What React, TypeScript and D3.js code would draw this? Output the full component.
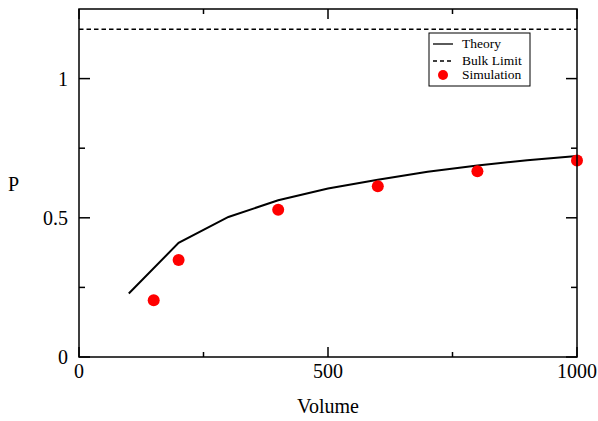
import React from "react";
import * as d3 from "d3";

const theoryVolume = [100, 200, 300, 400, 500, 600, 700, 800, 900, 1000];
const theoryP = [0.228, 0.41, 0.503, 0.563, 0.605, 0.637, 0.665, 0.688, 0.707, 0.722];
const simVolume = [150, 200, 400, 600, 800, 1000];
const simP = [0.204, 0.348, 0.529, 0.613, 0.667, 0.706];
const bulkLimit = 1.177;
const xMajorTicks = [0, 500, 1000];
const xMinorTicks = [250, 750];
const yMajorTicks = [0, 0.5, 1];
const yMinorTicks = [0.25, 0.75];
const legendLabels = ["Theory", "Bulk Limit", "Simulation"];

export default function App() {
  const W = 598, H = 421;
  const L = 79, R = 577, T = 9, B = 357;
  const x = d3.scaleLinear().domain([0, 1000]).range([L, R]);
  const y = d3.scaleLinear().domain([0, 1.25]).range([B, T]);
  const line = d3.line<number>().x((_, i) => x(theoryVolume[i])).y((d) => y(d));
  const font = "'Liberation Serif', 'Times New Roman', serif";
  const legY = [44, 61, 75];
  return (
    <svg width={W} height={H} style={{ position: "absolute", left: 0, top: 0 }}>
      <rect x={0} y={0} width={W} height={H} fill="#fff" />
      {/* dashed bulk limit */}
      <line x1={L} x2={R} y1={y(bulkLimit)} y2={y(bulkLimit)} stroke="#000" strokeWidth={1.5} strokeDasharray="4.5,3" />
      {/* theory line */}
      <path d={line(theoryP) || ""} fill="none" stroke="#000" strokeWidth={2} />
      {/* simulation dots */}
      {simP.map((p, i) => (
        <circle key={i} cx={x(simVolume[i])} cy={y(p)} r={6} fill="#ff0000" />
      ))}
      {/* frame */}
      <rect x={L} y={T} width={R - L} height={B - T} fill="none" stroke="#000" strokeWidth={1.5} />
      {/* x ticks */}
      {xMajorTicks.map((t) => (
        <g key={"xM" + t}>
          <line x1={x(t)} x2={x(t)} y1={B} y2={B - 10} stroke="#000" strokeWidth={1.5} />
          <line x1={x(t)} x2={x(t)} y1={T} y2={T + 10} stroke="#000" strokeWidth={1.5} />
          <text x={x(t)} y={378} fontFamily={font} fontSize={20} textAnchor="middle">{t}</text>
        </g>
      ))}
      {xMinorTicks.map((t) => (
        <g key={"xm" + t}>
          <line x1={x(t)} x2={x(t)} y1={B} y2={B - 5} stroke="#000" strokeWidth={1.5} />
          <line x1={x(t)} x2={x(t)} y1={T} y2={T + 5} stroke="#000" strokeWidth={1.5} />
        </g>
      ))}
      {/* y ticks */}
      {yMajorTicks.map((t) => (
        <g key={"yM" + t}>
          <line x1={L} x2={L + 11} y1={y(t)} y2={y(t)} stroke="#000" strokeWidth={1.5} />
          <line x1={R} x2={R - 11} y1={y(t)} y2={y(t)} stroke="#000" strokeWidth={1.5} />
          <text x={68} y={y(t) + 7} fontFamily={font} fontSize={20} textAnchor="end">{t}</text>
        </g>
      ))}
      {yMinorTicks.map((t) => (
        <g key={"ym" + t}>
          <line x1={L} x2={L + 6} y1={y(t)} y2={y(t)} stroke="#000" strokeWidth={1.5} />
          <line x1={R} x2={R - 6} y1={y(t)} y2={y(t)} stroke="#000" strokeWidth={1.5} />
        </g>
      ))}
      {/* axis titles */}
      <text x={(L + R) / 2} y={413} fontFamily={font} fontSize={20} textAnchor="middle">Volume</text>
      <text x={8} y={191} fontFamily={font} fontSize={20}>P</text>
      {/* legend */}
      <rect x={429} y={33} width={101} height={53} fill="#fff" stroke="#000" strokeWidth={1} />
      <line x1={433} x2={453} y1={legY[0]} y2={legY[0]} stroke="#000" strokeWidth={1.3} />
      <line x1={433} x2={453} y1={legY[1]} y2={legY[1]} stroke="#000" strokeWidth={1.3} strokeDasharray="4,3" />
      <circle cx={443} cy={legY[2]} r={5} fill="#ff0000" />
      {legendLabels.map((l, i) => (
        <text key={l} x={462} y={legY[i] + 4} fontFamily={font} fontSize={13.5}>{l}</text>
      ))}
    </svg>
  );
}
